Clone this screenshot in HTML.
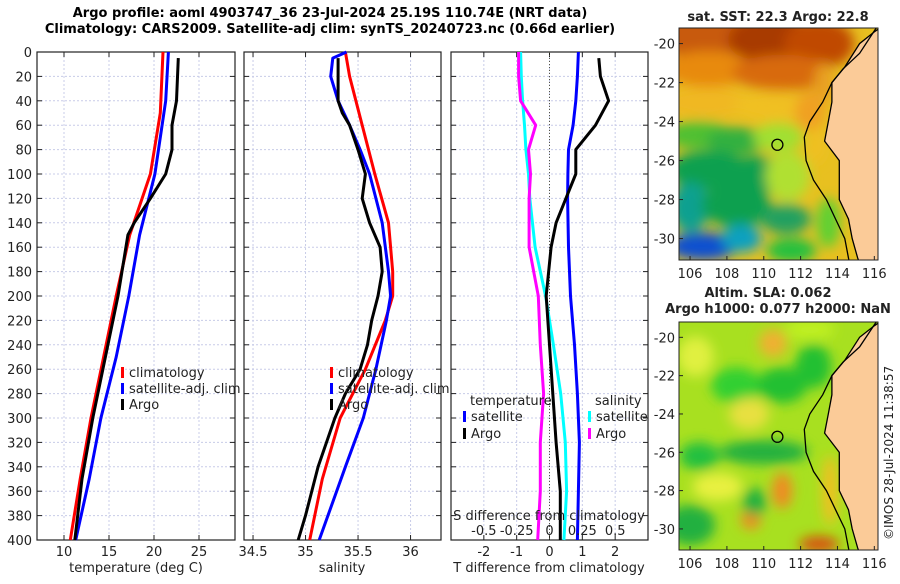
<!DOCTYPE html>
<html><head><meta charset="utf-8">
<style>
body{margin:0;background:#fff;width:900px;height:580px;overflow:hidden;font-family:"DejaVu Sans","Liberation Sans",sans-serif}
svg text{font-family:"DejaVu Sans","Liberation Sans",sans-serif}
</style></head>
<body>
<svg id="s" width="900" height="580" xmlns="http://www.w3.org/2000/svg">
<defs>
<filter id="bl" x="-20%" y="-20%" width="140%" height="140%"><feGaussianBlur stdDeviation="6"/></filter>
<clipPath id="cm1"><rect x="679" y="28" width="199" height="232"/></clipPath>
<clipPath id="cm2"><rect x="679" y="322" width="199" height="228"/></clipPath>
</defs>
<text x="330" y="17" text-anchor="middle" font-size="13" font-weight="bold">Argo profile: aoml 4903747_36 23-Jul-2024 25.19S 110.74E (NRT data)</text>
<text x="330" y="33" text-anchor="middle" font-size="13" font-weight="bold">Climatology: CARS2009. Satellite-adj clim: synTS_20240723.nc (0.66d earlier)</text>
<g id="g"></g>
</svg>
<script>
// ---- data ----
const depthTicks=[0,20,40,60,80,100,120,140,160,180,200,220,240,260,280,300,320,340,360,380,400];
const tTicks=[10,15,20,25];
const sTicks=[34.5,35,35.5,36];
const sTickLabels=["34.5","35","35.5","36"];
const dTTicks=[-2,-1,0,1,2];
const dSTicks=[-0.5,-0.25,0,0.25,0.5];
const dSTickLabels=["-0.5","-0.25","0","0.25","0.5"];

const tClimDepth=[0,50,100,150,200,250,300,350,400];
const tClim=[21.0,20.7,19.6,17.3,15.8,14.4,13.0,11.8,10.7];
const tSatDepth=[0,40,100,150,200,250,300,350,400];
const tSat=[21.6,21.3,20.1,18.4,17.2,15.8,14.1,12.8,11.3];
const tArgoDepth=[5,40,60,80,100,120,140,150,200,250,300,350,400];
const tArgo=[22.7,22.5,22.0,22.0,21.3,19.6,17.8,17.1,16.0,14.6,13.2,12.0,11.2];

const sClimDepth=[0,20,60,100,140,180,200,220,260,300,350,400];
const sClim=[35.38,35.42,35.54,35.66,35.79,35.83,35.83,35.76,35.57,35.33,35.16,35.04];
const sSatDepth=[0,5,20,40,60,80,100,140,180,200,220,260,300,340,400];
const sSat=[35.39,35.26,35.24,35.31,35.42,35.52,35.61,35.73,35.79,35.81,35.77,35.67,35.55,35.38,35.13];
const sArgoDepth=[5,40,50,60,80,100,120,140,160,180,200,220,240,260,280,300,340,380,400];
const sArgo=[35.31,35.31,35.35,35.42,35.50,35.57,35.54,35.61,35.71,35.73,35.69,35.63,35.59,35.52,35.38,35.28,35.12,35.00,34.93];

const dDepth=[0,20,40,60,80,100,120,160,200,240,280,320,360,400];
const dTSat=[0.88,0.85,0.80,0.72,0.58,0.56,0.55,0.58,0.64,0.76,0.85,0.91,0.88,0.85];
const dTArgoDepth=[5,20,40,60,80,100,120,140,160,200,240,280,320,360,400];
const dTArgo=[1.5,1.55,1.8,1.4,0.8,0.8,0.5,0.2,0.05,-0.1,0,0.1,0.2,0.33,0.33];
const dSSat=[-0.22,-0.215,-0.205,-0.19,-0.18,-0.16,-0.15,-0.11,-0.03,0.03,0.085,0.12,0.13,0.11];
const dSArgo=[-0.235,-0.235,-0.22,-0.105,-0.16,-0.145,-0.155,-0.155,-0.085,-0.07,-0.045,-0.07,-0.07,-0.09];

const NS="http://www.w3.org/2000/svg";
const G=document.getElementById('g');
function mk(tag,at,parent){const e=document.createElementNS(NS,tag);for(const k in at)e.setAttribute(k,at[k]);(parent||G).appendChild(e);return e;}
const Y0=52,Y1=540;
function yD(d){return Y0+(d/400)*(Y1-Y0);}
const P=[{x0:37,x1:235,min:7,max:29},{x0:244,x1:441,min:34.414,max:36.29},{x0:451,x1:648,min:-3,max:3}];
function xs(p,v){return p.x0+(v-p.min)/(p.max-p.min)*(p.x1-p.x0);}
const pS={x0:451,x1:648,min:-0.75,max:0.75};

P.forEach((p,i)=>{
  const g=mk('g',{});
  
  
  depthTicks.forEach(d=>{const l=mk('line',{x1:p.x0,x2:p.x1,y1:yD(d),y2:yD(d),stroke:'#c8cce8','stroke-dasharray':'2,2','stroke-width':1},g);
    
    mk('line',{x1:p.x0,x2:p.x0+5,y1:yD(d),y2:yD(d),stroke:'#222'},g);mk('line',{x1:p.x1,x2:p.x1-5,y1:yD(d),y2:yD(d),stroke:'#222'},g);});
  const xt=i==0?tTicks:i==1?sTicks:dTTicks;
  xt.forEach(v=>{const x=xs(p,v);mk('line',{x1:x,x2:x,y1:Y0,y2:Y1,stroke:'#c8cce8','stroke-dasharray':'2,2'},g);
    mk('line',{x1:x,x2:x,y1:Y1,y2:Y1-5,stroke:'#222'},g);mk('line',{x1:x,x2:x,y1:Y0,y2:Y0+5,stroke:'#222'},g);});
  const r=mk('rect',{x:p.x0,y:Y0,width:p.x1-p.x0,height:Y1-Y0,fill:'none',stroke:'#222','stroke-width':1.2},g);
  
});
depthTicks.forEach(d=>{const t=mk('text',{x:32,y:yD(d)+5,'text-anchor':'end','font-size':13,fill:'#222'});t.textContent=d;
  });
tTicks.forEach(v=>{const t=mk('text',{x:xs(P[0],v),y:556,'text-anchor':'middle','font-size':13,fill:'#222'});t.textContent=v;
  });
sTicks.forEach((v,i)=>{const t=mk('text',{x:xs(P[1],v),y:556,'text-anchor':'middle','font-size':13,fill:'#222'});t.textContent=sTickLabels[i];
  });
dTTicks.forEach(v=>{const t=mk('text',{x:xs(P[2],v),y:556,'text-anchor':'middle','font-size':13,fill:'#222'});t.textContent=v;
  });
const z=mk('line',{x1:xs(P[2],0),x2:xs(P[2],0),y1:Y0,y2:Y1,stroke:'#554',"stroke-dasharray":"1,2"});


function series(p,vals,deps,col,name,w){
  const d=vals.map((v,i)=>(i?'L':'M')+xs(p,v).toFixed(1)+','+yD(deps[i]).toFixed(1)).join('');
  const e=mk('path',{d:d,fill:'none',stroke:col,'stroke-width':w||3,'stroke-linejoin':'round'});
  
}
series(P[0],tClim,tClimDepth,'#f00','temp-climatology-line');
series(P[0],tSat,tSatDepth,'#00f','temp-satellite-line');
series(P[0],tArgo,tArgoDepth,'#000','temp-argo-line');
series(P[1],sClim,sClimDepth,'#f00','sal-climatology-line');
series(P[1],sSat,sSatDepth,'#00f','sal-satellite-line');
series(P[1],sArgo,sArgoDepth,'#000','sal-argo-line');
series(pS,dSSat,dDepth,'#0ff','sdiff-satellite-line');
series(pS,dSArgo,dDepth,'#f0f','sdiff-argo-line');
series(P[2],dTSat,dDepth,'#00f','tdiff-satellite-line');
series(P[2],dTArgo,dTArgoDepth,'#000','tdiff-argo-line');

function txt(x,y,s,name,extra){const t=mk('text',Object.assign({x:x,y:y,'font-size':13,fill:'#222'},extra||{}));t.textContent=s;return t;}
txt(549,520,'S difference from climatology','sdiff-axis-title',{'text-anchor':'middle'});
dSTicks.forEach((v,i)=>{txt(xs(pS,v),535,dSTickLabels[i],'sdiff-tick-label',{'text-anchor':'middle'});});

txt(136,572,'temperature (deg C)','temp-axis-title',{'text-anchor':'middle'});
txt(342,572,'salinity','salinity-axis-title',{'text-anchor':'middle'});
txt(549,572,'T difference from climatology','tdiff-axis-title',{'text-anchor':'middle'});

function leg(x,y,col,s,name){const r=mk('rect',{x:x,y:y-10,width:3,height:11,fill:col});
  txt(x+8,y,s,name);}
[[121,'#f00','climatology','legend-climatology'],[121,'#00f','satellite-adj. clim','legend-satellite'],[121,'#000','Argo','legend-argo']].forEach((a,i)=>leg(a[0],377+i*16,a[1],a[2],a[3]));
[[330,'#f00','climatology','legend-sal-climatology'],[330,'#00f','satellite-adj. clim','legend-sal-satellite'],[330,'#000','Argo','legend-sal-argo']].forEach((a,i)=>leg(a[0],377+i*16,a[1],a[2],a[3]));
txt(470,405,'temperature','legend-temp-header');
leg(463,421,'#00f','satellite','legend-tdiff-satellite');
leg(463,438,'#000','Argo','legend-tdiff-argo');
txt(595,405,'salinity','legend-sal-header');
leg(588,421,'#0ff','satellite','legend-sdiff-satellite');
leg(588,438,'#f0f','Argo','legend-sdiff-argo');

// ---- maps ----
const mapLonTicks=[106,108,110,112,114,116];
const mapLatTicks=[-20,-22,-24,-26,-28,-30];
function mapFrame(y0,y1,latA,latB,clip,blobs,base,name,title1,title2){
  const mx0=679,mx1=878;
  const lonx=l=>mx0+(l-105.4)/(116.2-105.4)*(mx1-mx0);
  const laty=l=>y0+(latA-l)/(latA-latB)*(y1-y0);
  const g=mk('g',{'clip-path':'url(#'+clip+')'});
  
  mk('rect',{x:mx0,y:y0,width:mx1-mx0,height:y1-y0,fill:base},g);
  const bg=mk('g',{filter:'url(#bl)'},g);
  blobs.forEach(b=>mk('ellipse',{cx:lonx(b[0]),cy:laty(b[1]),rx:b[2],ry:b[3],fill:b[4]},bg));
  const coast=[[116.6,-19.0],[116.0,-19.4],[115.2,-20.0],[114.4,-21.2],[113.7,-22.0],[113.7,-23.0],[113.5,-24.0],[113.3,-25.0],[114.1,-26.0],[114.1,-27.0],[114.1,-28.0],[114.6,-29.0],[114.8,-30.0],[115.1,-31.0],[115.3,-31.5]];
  const shelf=[[116.1,-19.2],[115.2,-20.5],[114.3,-21.3],[113.7,-22.0],[113.2,-23.0],[112.5,-24.0],[112.2,-24.8],[112.3,-26.0],[112.7,-27.0],[113.4,-28.0],[113.9,-29.0],[114.4,-30.0],[114.6,-31.0],[114.7,-31.5]];
  // shelf band colour handled by blobs; land polygon
  const cp=coast.map(c=>lonx(c[0]).toFixed(1)+','+laty(c[1]).toFixed(1)).join(' ');
  const pl=mk('polygon',{points:cp+' '+(mx1+5)+','+(y1+5)+' '+(mx1+5)+','+(y0-5),fill:'#fbcb98'},g);
  
  mk('polyline',{points:cp,fill:'none',stroke:'#000','stroke-width':1.3},g);
  mk('polyline',{points:shelf.map(c=>lonx(c[0]).toFixed(1)+','+laty(c[1]).toFixed(1)).join(' '),fill:'none',stroke:'#000','stroke-width':1.3},g);
  const c=mk('circle',{cx:lonx(110.74),cy:laty(-25.19),r:5.5,fill:'none',stroke:'#000','stroke-width':1.3});
  
  const fr=mk('rect',{x:mx0,y:y0,width:mx1-mx0,height:y1-y0,fill:'none',stroke:'#222'});
  
  mapLonTicks.forEach(l=>{mk('line',{x1:lonx(l),x2:lonx(l),y1:y1,y2:y1-4,stroke:'#222'});txt(lonx(l),y1+18,l,'map-lon-label',{'text-anchor':'middle'});});
  mapLatTicks.forEach(l=>{mk('line',{x1:mx0,x2:mx0+4,y1:laty(l),y2:laty(l),stroke:'#222'});txt(mx0-4,laty(l)+5,l,'map-lat-label',{'text-anchor':'end'});});
  if(title2){txt(768,y0-25,title1,name+'-title',{'text-anchor':'middle','font-weight':'bold'});txt(778,y0-9,title2,name+'-subtitle',{'text-anchor':'middle','font-weight':'bold'});}
  else txt(778,y0-7,title1,name+'-title',{'text-anchor':'middle','font-weight':'bold'});
}
mapFrame(28,260,-19.2,-31.1,'cm1',[
 [107,-19.5,60,25,'#c85a08'],[110.5,-19.8,45,25,'#a83a04'],[113,-20,35,25,'#c04a06'],[107,-21.3,45,18,'#e88a10'],[111,-21.5,50,18,'#d86a0a'],
 [107,-23,45,15,'#f0b820'],[110.5,-23.2,40,15,'#f0c020'],[112.5,-23.5,15,20,'#f0a020'],
 [106.5,-24.7,35,14,'#50c030'],[108.5,-25,30,14,'#30b040'],[110.8,-24.8,25,14,'#a0e030'],
 [107,-26.5,40,20,'#10a050'],[109.5,-26.8,30,20,'#10a050'],[111.3,-26.8,22,25,'#b0e030'],
 [106,-28.4,20,25,'#10a090'],[108.5,-28.3,35,22,'#10a050'],[111.2,-29,25,15,'#20a060'],
 [106.7,-30.4,35,14,'#1050d0'],[108.8,-30,20,14,'#10a0c0'],[111.5,-30.6,25,12,'#20c040'],
 [113.5,-29.2,12,25,'#60d030'],[112.8,-25.2,8,18,'#f0c020'],[113.3,-22,10,20,'#e8a020']
],'#e8c020','map-sst','sat. SST: 22.3 Argo: 22.8');
mapFrame(322,550,-19.2,-31.1,'cm2',[
 [110.5,-20.3,14,14,'#f0b030'],[106.3,-21,18,20,'#e0f040'],[108.5,-22.5,25,18,'#30d030'],[111,-22.5,25,18,'#20c030'],
 [109.2,-24,20,16,'#e8e040'],[110,-26,45,12,'#20b040'],[106.5,-26.2,20,14,'#20c040'],[107.5,-27.8,25,14,'#e8f040'],
 [111,-28,10,18,'#f08a20'],[109.3,-29.5,10,10,'#f08a20'],[113,-30.8,20,8,'#d85010'],
 [106,-29.8,25,20,'#20b040'],[109.5,-28.6,12,14,'#20b040'],[112.7,-21.5,18,22,'#20c030'],[113.6,-28,8,35,'#f0c020'],
 [112.5,-19.6,25,10,'#c0f020']
],'#a8e020','map-sla','Altim. SLA: 0.062','Argo h1000: 0.077 h2000: NaN');
txt(0,0,'©IMOS 28-Jul-2024 11:38:57','timestamp',{transform:'translate(893,540) rotate(-90)','font-size':12});
</script>
</body></html>
